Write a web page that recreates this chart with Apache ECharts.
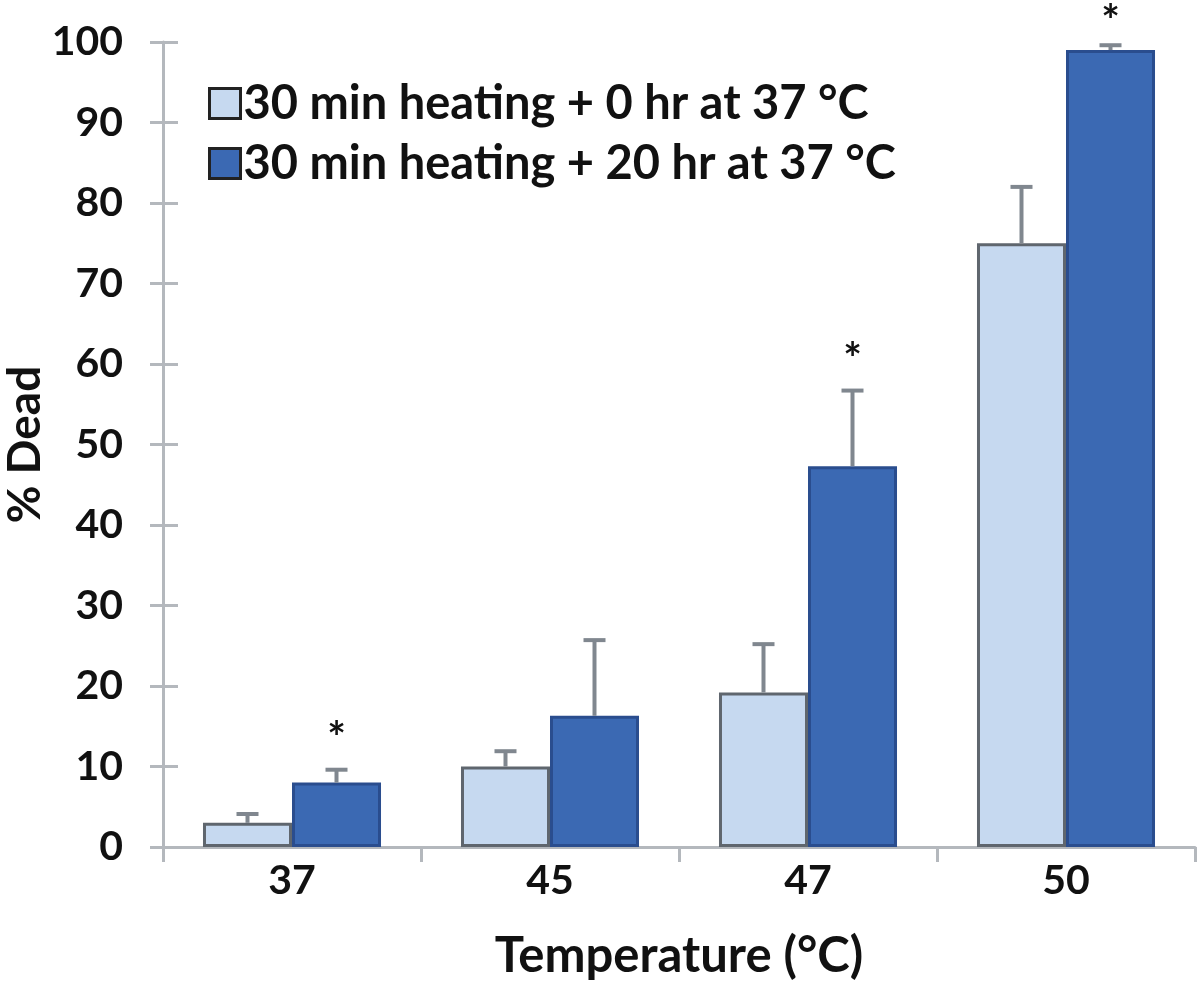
<!DOCTYPE html>
<html><head><meta charset="utf-8">
<script src="https://cdn.jsdelivr.net/npm/echarts@6/dist/echarts.min.js"></script>
<style>html,body{margin:0;padding:0;background:#fff}#c{width:1200px;height:991px}</style>
</head><body><div id="c"></div>
<script>
var categories = ['37', '45', '47', '50'];
var seriesNames = ['30 min heating + 0 hr at 37 \u00B0C', '30 min heating + 20 hr at 37 \u00B0C'];
var values0hr = [3, 10, 19.2, 75];
var values20hr = [8, 16.3, 47.3, 99];
var err0hr = [1.1, 1.9, 6, 7];
var err20hr = [1.6, 9.4, 9.4, 0.6];
var signif20hr = ['*', '', '*', '*'];
var yTicks = [0, 10, 20, 30, 40, 50, 60, 70, 80, 90, 100];

var FONT = 'Lato, "Open Sans", sans-serif';
var CAT_GAP = 0.31;
var chart = echarts.init(document.getElementById('c'));

function errSeries(vals, errs, side, sig) {
  return {
    type: 'custom',
    silent: true,
    z: 5,
    data: vals.map(function (v, i) { return [i, v, errs[i]]; }),
    renderItem: function (params, api) {
      var i = api.value(0), v = api.value(1), e = api.value(2);
      var catW = api.size([1, 0])[0];
      var barW = catW * (1 - CAT_GAP) / 2;
      var c = api.coord([i, v]);
      var x = c[0] + side * barW / 2;
      var top = api.coord([i, v + e])[1];
      var st = { stroke: '#80878f', lineWidth: 4 };
      var children = [
        { type: 'line', shape: { x1: x, y1: c[1], x2: x, y2: top }, style: st },
        { type: 'line', shape: { x1: x - 11, y1: top, x2: x + 11, y2: top }, style: st }
      ];
      var s = sig ? sig[i] : '';
      if (s) {
        children.push({ type: 'text', style: { text: s, x: x, y: Math.max(top - 31, 22), fill: '#111', font: 'bold 44px ' + FONT, align: 'center', verticalAlign: 'middle' } });
      }
      return { type: 'group', children: children };
    }
  };
}

chart.setOption({
  animation: false,
  backgroundColor: '#fff',
  grid: { left: 163, right: 5, top: 42, bottom: 144, containLabel: false, outerBoundsMode: 'none' },
  legend: {
    orient: 'vertical', left: 203, top: 75, itemWidth: 31, itemHeight: 30, itemGap: 13,
    textStyle: { fontFamily: FONT, fontSize: 47, fontWeight: 'bold', color: '#111', padding: [0, 0, 0, -2] },
    data: [
      { name: seriesNames[0], icon: 'rect', itemStyle: { color: '#c6d9f0', borderColor: '#222', borderWidth: 3 } },
      { name: seriesNames[1], icon: 'rect', itemStyle: { color: '#3b69b3', borderColor: '#222', borderWidth: 3 } }
    ]
  },
  xAxis: {
    type: 'category', data: categories,
    name: 'Temperature (\u00B0C)', nameLocation: 'middle', nameGap: 85, nameMoveOverlap: false,
    nameTextStyle: { fontFamily: FONT, fontSize: 49, fontWeight: 'bold', color: '#111' },
    axisLine: { lineStyle: { color: '#b4b8bd', width: 3 } },
    axisTick: { show: true, length: 15, lineStyle: { color: '#b4b8bd', width: 3 } },
    axisLabel: { fontFamily: FONT, fontSize: 41, fontWeight: 'bold', color: '#111', margin: 13 }
  },
  yAxis: [{
    type: 'value', min: 0, max: 100, interval: 10,
    name: '% Dead', nameLocation: 'middle', nameGap: 115, nameMoveOverlap: false,
    nameTextStyle: { fontFamily: FONT, fontSize: 46, fontWeight: 'bold', color: '#111' },
    axisLine: { show: true, lineStyle: { color: '#b4b8bd', width: 3 } },
    axisTick: { show: true, length: 13, lineStyle: { color: '#b4b8bd', width: 3 } },
    axisLabel: { fontFamily: FONT, fontSize: 41, fontWeight: 'bold', color: '#111', margin: 40, formatter: function (v) { return yTicks.indexOf(v) >= 0 ? String(v) : ''; } },
    splitLine: { show: false }
  }, {
    type: 'value', min: 0, max: 100, interval: 10, position: 'left',
    axisLine: { show: false },
    axisTick: { show: true, inside: true, length: 15, lineStyle: { color: '#b4b8bd', width: 3 } },
    axisLabel: { show: false }, splitLine: { show: false }
  }],
  series: [
    { name: seriesNames[0], type: 'bar', data: values0hr, barGap: '0%', barCategoryGap: (CAT_GAP * 100) + '%',
      itemStyle: { color: '#c6d9f0', borderColor: '#5f666e', borderWidth: 3 } },
    { name: seriesNames[1], type: 'bar', data: values20hr, barGap: '0%', barCategoryGap: (CAT_GAP * 100) + '%',
      itemStyle: { color: '#3b69b3', borderColor: '#2a4d8e', borderWidth: 3 } },
    errSeries(values0hr, err0hr, -1, null),
    errSeries(values20hr, err20hr, 1, signif20hr)
  ]
});
</script></body></html>
